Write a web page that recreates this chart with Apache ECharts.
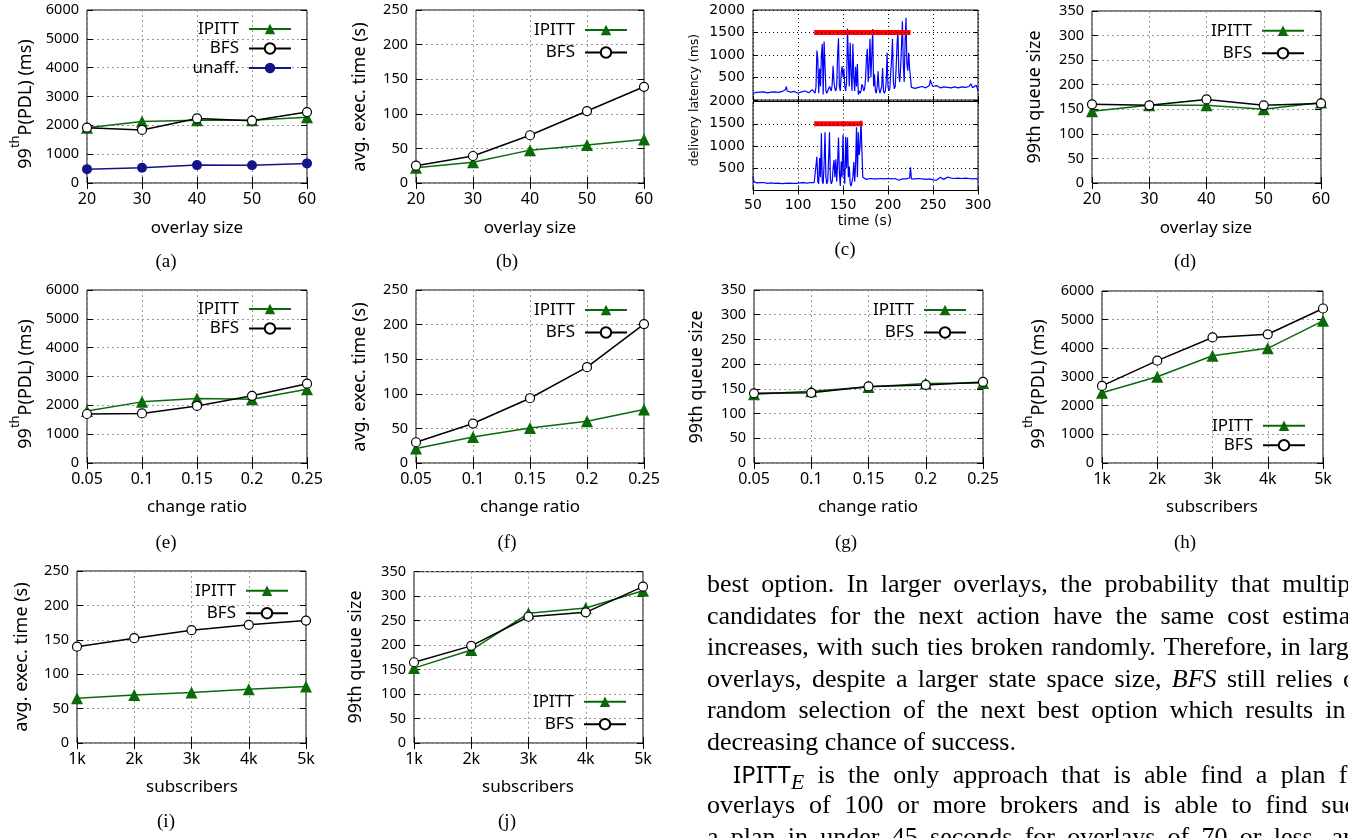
<!DOCTYPE html>
<html>
<head>
<meta charset="utf-8">
<script src="https://cdn.jsdelivr.net/npm/echarts@6.0.0/dist/echarts.min.js"></script>
<style>
    html, body {margin: 0; padding: 0; background: #fff; overflow: hidden;}
    #chartBox {position: absolute; left: 0; top: 0; width: 1348px; height: 838px;}
    .txt {position: absolute; left: 707px; width: 662px; height: 32px; line-height: 32px;
          font-family: "Liberation Serif", serif; font-size: 26px; color: #000;
          text-align: justify; text-align-last: justify; overflow: visible;}
    .txt.last {text-align-last: left;}
    .sans {font-family: "Noto Sans", sans-serif; font-size: 24px;}
</style>
</head>
<body>
<div id="chartBox"></div>

<div class="txt" style="top:568px;">best option. In larger overlays, the probability that multiple</div>
<div class="txt" style="top:600px;">candidates for the next action have the same cost estimate</div>
<div class="txt" style="top:631px;">increases, with such ties broken randomly. Therefore, in larger</div>
<div class="txt" style="top:663px;">overlays, despite a larger state space size, <i>BFS</i> still relies on</div>
<div class="txt" style="top:694px;">random selection of the next best option which results in a</div>
<div class="txt last" style="top:726px;">decreasing chance of success.</div>
<div class="txt" style="top:758px; left:733px; width:636px;"><span class="sans">IPITT</span><sub><i>E</i></sub> is the only approach that is able find a plan for</div>
<div class="txt" style="top:789px;">overlays of 100 or more brokers and is able to find such</div>
<div class="txt" style="top:821px;">a plan in under 45 seconds for overlays of 70 or less, and</div>

<script>
// x categories
var overlaySize = [20, 30, 40, 50, 60];
var changeRatio = [0.05, 0.1, 0.15, 0.2, 0.25];
var subscribers = [1, 2, 3, 4, 5]; // thousands

// (a) 99th PDL vs overlay size
var pdlOverlayIpitt = [1920, 2130, 2180, 2180, 2280];
var pdlOverlayBfs = [1920, 1840, 2240, 2160, 2460];
var pdlOverlayUnaff = [480, 530, 620, 615, 680];
// (b) exec time vs overlay size
var execOverlayIpitt = [22, 30, 47.5, 55, 63];
var execOverlayBfs = [25, 39, 69, 104, 139];
// (d) queue size vs overlay size
var queueOverlayIpitt = [146, 158, 158, 150, 164];
var queueOverlayBfs = [160, 158, 170, 158, 162];
// (e)(f)(g) vs change ratio
var pdlRatioIpitt = [1800, 2120, 2236, 2210, 2560];
var pdlRatioBfs = [1700, 1720, 1980, 2330, 2750];
var execRatioIpitt = [21, 37.6, 50.7, 60.3, 77.2];
var execRatioBfs = [30, 57, 93.6, 138.5, 200.8];
var queueRatioIpitt = [139, 145, 154, 161, 162];
var queueRatioBfs = [141, 142, 155, 158, 164];
// (h)(i)(j) vs subscribers
var pdlSubsIpitt = [2450, 3010, 3740, 4000, 4960];
var pdlSubsBfs = [2690, 3570, 4380, 4490, 5390];
var execSubsIpitt = [65, 69.6, 73.5, 78.3, 82.2];
var execSubsBfs = [140, 152.3, 164, 171.7, 178];
var queueSubsIpitt = [153, 190, 265, 276, 311];
var queueSubsBfs = [165, 198.5, 258, 267, 319.5];

// (c) delivery latency over time, [time s, latency ms]
var latencyTop = [
    [50,150],[52,190],[54,170],[56,160],[58,175],[60,165],[62,180],[64,170],[66,160],[68,185],[70,175],[72,165],
    [74,180],[76,190],[78,170],[80,175],[82,185],[84,180],[86,230],[87,300],[88,200],[90,185],[92,175],[94,170],
    [96,190],[98,180],[100,150],[102,165],[104,180],[106,175],[108,200],[110,170],[112,160],[114,190],[116,230],[118,200],
    [119,150],[120,300],[121,1100],[122,900],[123,150],[124,700],[125,300],[126,1000],[127,1250],[128,120],[129,1300],
    [130,1300],[131,200],[132,150],[133,180],[134,250],[135,300],[136,250],[137,200],[138,350],[139,760],[140,400],
    [141,250],[142,200],[143,300],[144,1000],[145,1370],[146,300],[147,200],[148,600],[149,750],[150,500],[151,700],
    [152,300],[153,200],[154,400],[155,1590],[156,900],[157,300],[158,1270],[159,600],[160,200],[161,1250],[162,500],
    [163,200],[164,740],[165,300],[166,800],[167,120],[168,200],[169,150],[170,200],[171,350],[172,300],[173,200],
    [174,250],[175,450],[176,900],[177,1140],[178,400],[179,800],[180,1360],[181,500],[182,1000],[183,1575],[184,300],
    [185,570],[186,200],[187,150],[188,300],[189,640],[190,250],[191,150],[192,180],[193,300],[194,710],[195,200],
    [196,150],[197,200],[198,400],[199,1050],[200,300],[201,200],[202,250],[203,600],[204,900],[205,1360],[206,400],
    [207,250],[208,300],[209,700],[210,1200],[211,1560],[212,600],[213,400],[214,700],[215,1200],[216,1750],[217,800],
    [218,400],[219,1300],[220,1830],[221,800],[222,650],[223,1050],[224,700],[225,500],[226,280],
    [228,290],[230,260],[232,300],[234,280],[236,270],[238,300],[240,290],[242,270],[244,300],[246,320],[247,450],
    [248,380],[250,300],[252,280],[254,320],[256,290],[258,270],[260,300],[262,290],[264,260],[266,280],[268,300],
    [270,270],[272,260],[274,290],[276,280],[278,270],[280,300],[282,290],[284,250],[286,280],[288,270],[290,300],
    [292,360],[294,270],[296,290],[298,330],[300,210]
];
var latencyBottom = [
    [50,320],[51,200],[52,180],[54,170],[56,190],[58,175],[60,165],[62,180],[64,170],[66,160],[68,155],[70,170],
    [72,165],[74,160],[76,150],[78,165],[80,160],[82,155],[84,170],[86,160],[88,150],[90,165],[92,155],[94,160],
    [96,170],[98,160],[100,165],[102,170],[104,160],[106,175],[108,170],[110,165],[112,175],[114,180],[116,170],[118,175],
    [119,200],[120,150],[121,760],[122,200],[123,150],[124,730],[125,300],[126,1285],[127,200],[128,150],[129,600],
    [130,1310],[131,300],[132,150],[133,200],[134,700],[135,1310],[136,250],[137,150],[138,200],[139,500],[140,685],
    [141,300],[142,700],[143,200],[144,600],[145,1190],[146,400],[147,100],[148,650],[149,300],[150,1250],[151,400],
    [152,150],[153,1210],[154,500],[155,1190],[156,300],[157,540],[158,150],[159,100],[160,200],[161,300],[162,640],
    [163,200],[164,600],[165,1420],[166,300],[167,1310],[168,800],[169,1000],[170,1575],[171,900],[172,300],[173,270],
    [174,260],[176,250],[178,280],[180,270],[182,250],[184,260],[186,290],[188,260],[190,250],[192,270],[194,240],
    [196,260],[198,250],[200,270],[202,240],[204,260],[206,250],[208,270],[210,260],[212,230],[214,250],[216,260],
    [218,240],[220,260],[222,250],[224,280],[225,520],[226,260],[228,240],[230,260],[232,250],[234,270],[236,240],
    [238,260],[240,230],[242,250],[244,270],[246,260],[248,250],[250,240],[252,260],[254,230],[256,270],[258,300],
    [260,260],[262,250],[264,280],[266,300],[268,260],[270,280],[272,250],[274,270],[276,260],[278,280],[280,250],
    [282,270],[284,260],[286,280],[288,250],[290,270],[292,240],[294,260],[296,250],[298,270],[300,240]
];
var attackTop = [118, 225];
var attackBottom = [118, 172];
var attackLevel = 1500;

(function(){
    var FONT = 'Noto Sans';
    var GREEN = '#0a6a0a', NAVY = '#141489';
    var looks = {
        'IPITT': {symbol: 'triangle', symbolSize: 12, lineStyle: {color: GREEN, width: 1.5}, itemStyle: {color: GREEN}},
        'BFS': {symbol: 'circle', symbolSize: 9, lineStyle: {color: '#000', width: 1.5},
                itemStyle: {color: '#fff', borderColor: '#000', borderWidth: 1.2}},
        'unaff.': {symbol: 'circle', symbolSize: 10, lineStyle: {color: NAVY, width: 1.5}, itemStyle: {color: NAVY}}
    };

    var option = {
        animation: false,
        backgroundColor: '#fff',
        grid: [], xAxis: [], yAxis: [], series: [], legend: [], graphic: []
    };

    function text(str, x, y, size, family, rot, rich){
        option.graphic.push({
            type: 'text', x: x, y: y, rotation: rot || 0, silent: true,
            style: {
                text: str, fill: '#000', fontSize: size, fontFamily: family,
                align: 'center', verticalAlign: 'middle',
                textAlign: 'center', textVerticalAlign: 'middle',
                rich: rich
            }
        });
    }

    var plainFmt = function(v){ return String(v); };

    function axis(gi, pos, min, max, step, main, fmt, tick, grid, size){
        return {
            type: 'value', gridIndex: gi, position: pos, min: min, max: max, interval: step, z: tick.z,
            axisLine: {show: false},
            axisTick: {show: true, inside: true, length: tick.len, lineStyle: {color: '#000', width: 1}},
            axisLabel: {show: main, margin: 8, color: '#000', fontFamily: tick.font, fontSize: size || tick.size,
                        formatter: fmt || plainFmt},
            splitLine: {show: main && grid, lineStyle: {color: tick.gridColor, type: tick.dash, width: 1}}
        };
    }

    var gnuTick = {len: 6, font: FONT, size: 14.5, gridColor: '#9a9a9a', dash: [2, 3], z: 0};

    function panel(p){
        var gi = option.grid.length, xi = option.xAxis.length, yi = option.yAxis.length;
        option.grid.push({left: p.box[0], top: p.box[1], width: p.box[2] - p.box[0], height: p.box[3] - p.box[1],
            show: true, borderColor: '#000', borderWidth: 1, backgroundColor: 'transparent'});
        option.xAxis.push(axis(gi, 'bottom', p.xr[0], p.xr[1], p.xr[2], true, p.xFmt, gnuTick, true, 16));
        option.xAxis.push(axis(gi, 'top', p.xr[0], p.xr[1], p.xr[2], false, null, gnuTick, false));
        option.yAxis.push(axis(gi, 'left', p.yr[0], p.yr[1], p.yr[2], true, null, gnuTick, true));
        option.yAxis.push(axis(gi, 'right', p.yr[0], p.yr[1], p.yr[2], false, null, gnuTick, false));
        var names = [];
        for(var i = 0; i < p.lines.length; i++){
            var ln = p.lines[i], lk = looks[ln[0]];
            names.push(ln[0]);
            option.series.push({
                type: 'line', name: ln[0], xAxisIndex: xi, yAxisIndex: yi, silent: true,
                data: p.xs.map(function(x, k){ return [x, ln[1][k]]; }),
                symbol: lk.symbol, symbolSize: lk.symbolSize,
                lineStyle: lk.lineStyle, itemStyle: lk.itemStyle
            });
        }
        option.legend.push({
            orient: 'vertical', right: p.legend[0], top: p.legend[1], itemGap: p.legend[2],
            align: 'right', padding: 0, itemWidth: 42, itemHeight: 13, selectedMode: false,
            textStyle: {fontFamily: FONT, fontSize: 17, color: '#000', padding: [0, 5, 0, 0]},
            data: names
        });
        text(p.xTitle, p.xt[0], p.xt[1], 17, FONT);
        if(p.yTitle === 'pdl'){
            text('{n|99}{s|th}{n|P(PDL) (ms)}', p.yt[0], p.yt[1], 18, FONT, Math.PI / 2, {
                n: {fontSize: 18, fontFamily: FONT, fill: '#000', verticalAlign: 'bottom', lineHeight: 26},
                s: {fontSize: 13, fontFamily: FONT, fill: '#000', verticalAlign: 'top', lineHeight: 26}
            });
        } else {
            text(p.yTitle, p.yt[0], p.yt[1], 18, FONT, Math.PI / 2);
        }
        text(p.caption, p.cap[0], p.cap[1], 19, 'Liberation Serif');
    }

    var ratioFmt = function(v){ return String(+v.toFixed(2)); };
    var subsFmt = function(v){ return v + 'k'; };

    // row 1
    panel({box: [87, 10, 307, 183], xs: overlaySize, xr: [20, 60, 10], yr: [0, 6000, 1000],
        lines: [['IPITT', pdlOverlayIpitt], ['BFS', pdlOverlayBfs], ['unaff.', pdlOverlayUnaff]],
        legend: [1056, 20.5, 2.5], xTitle: 'overlay size', xt: [197, 228], yTitle: 'pdl', yt: [22, 104],
        caption: '(a)', cap: [166, 262]});
    panel({box: [416, 10, 644, 183], xs: overlaySize, xr: [20, 60, 10], yr: [0, 250, 50],
        lines: [['IPITT', execOverlayIpitt], ['BFS', execOverlayBfs]],
        legend: [720, 21.5, 5.5], xTitle: 'overlay size', xt: [530, 228], yTitle: 'avg. exec. time (s)', yt: [360, 97],
        caption: '(b)', cap: [507, 262]});
    panel({box: [1092, 11, 1321, 183], xs: overlaySize, xr: [20, 60, 10], yr: [0, 350, 50],
        lines: [['IPITT', queueOverlayIpitt], ['BFS', queueOverlayBfs]],
        legend: [43, 22.2, 5.5], xTitle: 'overlay size', xt: [1206, 228], yTitle: '99th queue size', yt: [1035, 97],
        caption: '(d)', cap: [1185, 262]});
    // row 2
    panel({box: [87, 290, 307, 463], xs: changeRatio, xr: [0.05, 0.25, 0.05], xFmt: ratioFmt, yr: [0, 6000, 1000],
        lines: [['IPITT', pdlRatioIpitt], ['BFS', pdlRatioBfs]],
        legend: [1056, 300.5, 2.5], xTitle: 'change ratio', xt: [197, 507], yTitle: 'pdl', yt: [22, 384],
        caption: '(e)', cap: [166, 543]});
    panel({box: [416, 290, 644, 463], xs: changeRatio, xr: [0.05, 0.25, 0.05], xFmt: ratioFmt, yr: [0, 250, 50],
        lines: [['IPITT', execRatioIpitt], ['BFS', execRatioBfs]],
        legend: [720, 301.5, 5.5], xTitle: 'change ratio', xt: [530, 507], yTitle: 'avg. exec. time (s)', yt: [360, 377],
        caption: '(f)', cap: [507, 543]});
    panel({box: [754, 290, 983, 463], xs: changeRatio, xr: [0.05, 0.25, 0.05], xFmt: ratioFmt, yr: [0, 350, 50],
        lines: [['IPITT', queueRatioIpitt], ['BFS', queueRatioBfs]],
        legend: [381, 301.5, 5.5], xTitle: 'change ratio', xt: [868, 507], yTitle: '99th queue size', yt: [697, 377],
        caption: '(g)', cap: [846, 543]});
    panel({box: [1102, 291, 1323, 463], xs: subscribers, xr: [1, 5, 1], xFmt: subsFmt, yr: [0, 6000, 1000],
        lines: [['IPITT', pdlSubsIpitt], ['BFS', pdlSubsBfs]],
        legend: [42, 417.2, 2.5], xTitle: 'subscribers', xt: [1212, 507], yTitle: 'pdl', yt: [1035, 384],
        caption: '(h)', cap: [1185, 543]});
    // row 3
    panel({box: [77, 571, 306, 743], xs: subscribers, xr: [1, 5, 1], xFmt: subsFmt, yr: [0, 250, 50],
        lines: [['IPITT', execSubsIpitt], ['BFS', execSubsBfs]],
        legend: [1059, 582.2, 5.5], xTitle: 'subscribers', xt: [192, 787], yTitle: 'avg. exec. time (s)', yt: [22, 657],
        caption: '(i)', cap: [166, 822]});
    panel({box: [414, 571.7, 643, 743], xs: subscribers, xr: [1, 5, 1], xFmt: subsFmt, yr: [0, 350, 50],
        lines: [['IPITT', queueSubsIpitt], ['BFS', queueSubsBfs]],
        legend: [721, 693.2, 5.5], xTitle: 'subscribers', xt: [528, 787], yTitle: '99th queue size', yt: [356, 657],
        caption: '(j)', cap: [507, 822]});

    // (c) two stacked latency plots, grid drawn above the lines
    var mplTick = {len: 4, font: 'DejaVu Sans', size: 14, gridColor: '#000', dash: [1, 3], z: 5};
    var latFmt = function(v){ return (v >= 500 && v <= 2000) ? String(v) : ''; };
    function latency(box, data, attack, showX){
        var gi = option.grid.length, xi = option.xAxis.length, yi = option.yAxis.length;
        option.grid.push({left: box[0], top: box[1], width: box[2] - box[0], height: box[3] - box[1],
            show: true, borderColor: '#000', borderWidth: 1, backgroundColor: 'transparent'});
        var xa = axis(gi, 'bottom', 50, 300, 50, true, null, mplTick, true);
        xa.axisLabel.show = showX;
        option.xAxis.push(xa);
        option.xAxis.push(axis(gi, 'top', 50, 300, 50, false, null, mplTick, false));
        option.yAxis.push(axis(gi, 'left', 0, 2000, 500, true, latFmt, mplTick, true));
        option.yAxis.push(axis(gi, 'right', 0, 2000, 500, false, null, mplTick, false));
        option.series.push({type: 'line', xAxisIndex: xi, yAxisIndex: yi, silent: true, symbol: 'none',
            data: data, lineStyle: {color: '#0000ff', width: 1.2}});
        option.series.push({type: 'line', xAxisIndex: xi, yAxisIndex: yi, silent: true, symbol: 'none',
            data: [[attack[0], attackLevel], [attack[1], attackLevel]],
            lineStyle: {color: '#ff0000', width: 5}});
    }
    latency([753, 10, 978, 100], latencyTop, attackTop, false);
    latency([753, 101.5, 978, 190.5], latencyBottom, attackBottom, true);
    text('delivery latency (ms)', 695, 100, 12.5, 'DejaVu Sans', Math.PI / 2);
    text('time (s)', 865, 221, 14, 'DejaVu Sans');
    text('(c)', 845, 250, 19, 'Liberation Serif');

    var chart = echarts.init(document.getElementById('chartBox'));
    chart.setOption(option);
})();
</script>
</body>
</html>
